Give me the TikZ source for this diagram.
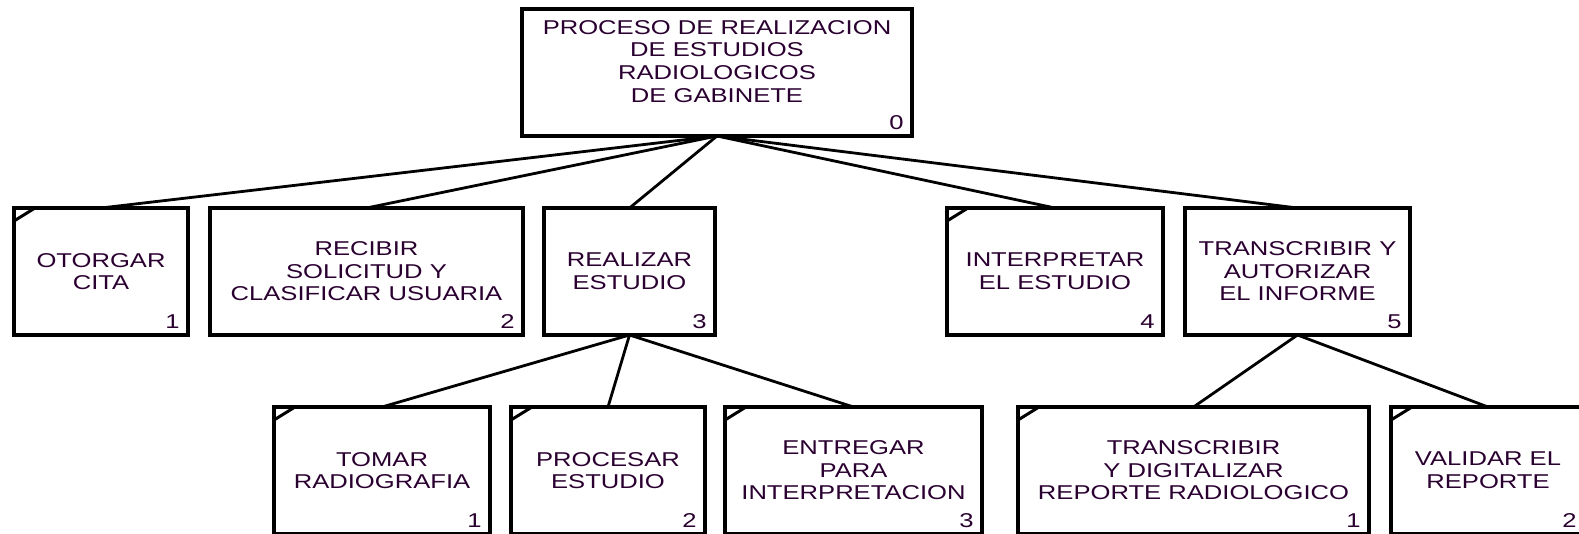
\documentclass[tikz,border=0pt]{standalone}
\usepackage{fontspec}
\setmainfont{Liberation Sans}[FakeStretch=1.28]
\usetikzlibrary{positioning}
\definecolor{Ink}{HTML}{2A0030}

\tikzset{
  actbox/.style={draw,line width=1.9pt,rectangle,outer sep=0pt,inner sep=0pt,
    minimum height=63.5pt,align=center,text=Ink,
    font=\fontsize{10}{11.3}\selectfont},
  num/.style={anchor=south east,inner sep=0pt,xshift=-4pt,yshift=3pt,text=Ink,
    font=\fontsize{10}{11.3}\selectfont},
  link/.style={line width=1.4pt},
  cornermark/.style={line width=1.5pt}
}

\begin{document}
\begin{tikzpicture}[x=0.5pt,y=-0.5pt]
  \useasboundingbox (0,0) rectangle (1579,534);
  % top
  \node[actbox,minimum width=195pt,label={[num]south east:0}] (top) at (717,72.5)
    {PROCESO DE REALIZACION\\DE ESTUDIOS\\RADIOLOGICOS\\DE GABINETE\\ \mbox{}};
  % first level
  \node[actbox,minimum width=87pt,label={[num]south east:1}] (b1) at (101,271.5) {OTORGAR\\CITA};
  \node[actbox,minimum width=156.5pt,label={[num]south east:2}] (b2) at (366.5,271.5) {RECIBIR\\SOLICITUD Y\\CLASIFICAR USUARIA};
  \node[actbox,minimum width=85.5pt,label={[num]south east:3}] (b3) at (629.5,271.5) {REALIZAR\\ESTUDIO};
  \node[actbox,minimum width=108pt,label={[num]south east:4}] (b4) at (1055,271.5) {INTERPRETAR\\EL ESTUDIO};
  \node[actbox,minimum width=112.5pt,label={[num]south east:5}] (b5) at (1297.5,271.5) {TRANSCRIBIR Y\\AUTORIZAR\\EL INFORME};
  % second level
  \node[actbox,minimum width=108pt,label={[num]south east:1}] (c1) at (382,470.5) {TOMAR\\RADIOGRAFIA};
  \node[actbox,minimum width=97pt,label={[num]south east:2}] (c2) at (608,470.5) {PROCESAR\\ESTUDIO};
  \node[actbox,minimum width=128.5pt,label={[num]south east:3}] (c3) at (853.5,470.5) {ENTREGAR\\PARA\\INTERPRETACION};
  \node[actbox,minimum width=175.5pt,label={[num]south east:1}] (c4) at (1193.5,470.5) {TRANSCRIBIR\\Y DIGITALIZAR\\REPORTE RADIOLOGICO};
  \node[actbox,minimum width=97pt,label={[num]south east:2}] (c5) at (1488,470.5) {VALIDAR EL\\REPORTE};
  % connectors
  \foreach \c in {b1,b2,b3,b4,b5}
    \draw[link] (top.south) -- (\c.north);
  \foreach \c in {c1,c2,c3}
    \draw[link] (b3.south) -- (\c.north);
  \foreach \c in {c4,c5}
    \draw[link] (b5.south) -- (\c.north);
  % corner marks
  \foreach \m in {b1,b4,c1,c2,c3,c4,c5}
    \draw[cornermark] ([yshift=-6.5pt]\m.north west) -- ([xshift=10.5pt]\m.north west);
\end{tikzpicture}
\end{document}
